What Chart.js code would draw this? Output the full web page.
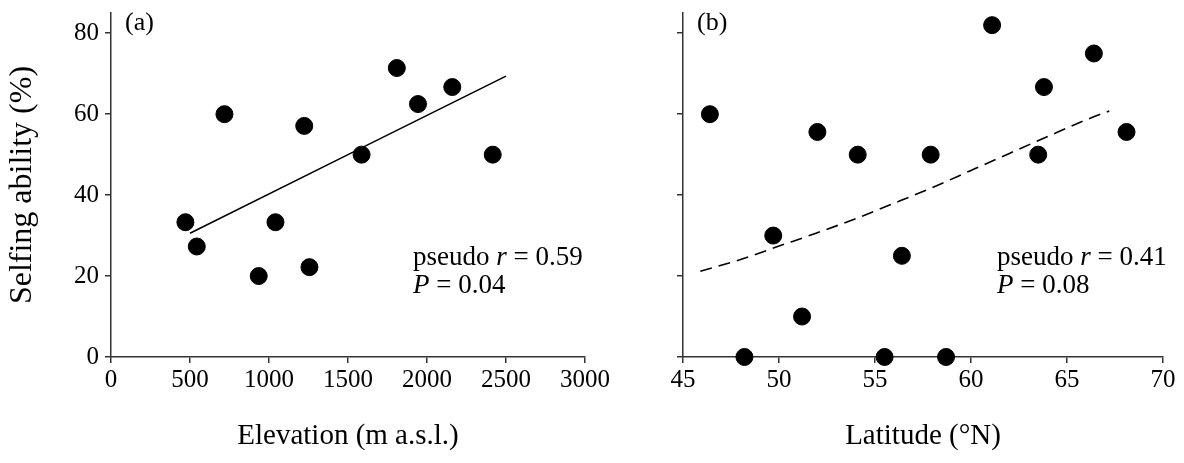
<!DOCTYPE html>
<html>
<head>
<meta charset="utf-8">
<script src="https://cdn.jsdelivr.net/npm/chart.js@4.4.1/dist/chart.umd.min.js"></script>
<style>
  html, body { margin: 0; padding: 0; background: #fff; }
  #wrap { position: relative; width: 1184px; height: 463px; overflow: hidden; background: #fff; }
  .cv { position: absolute; top: 0; height: 463px; }
  #boxA { left: 0; width: 620px; }
  #boxB { left: 600px; width: 584px; }
</style>
</head>
<body>
<div id="wrap">
  <div class="cv" id="boxA"><canvas id="chartA"></canvas></div>
  <div class="cv" id="boxB"><canvas id="chartB"></canvas></div>
</div>
<script>
// ---- Data ----
const elevation = [471, 543, 718, 935, 1041, 1223, 1256, 1586, 1809, 1943, 2160, 2416];
const selfingA  = [33.3, 27.3, 60, 20, 33.3, 57.1, 22.2, 50, 71.4, 62.5, 66.7, 50];

const latitude  = [46.4, 48.2, 49.7, 51.2, 52.0, 54.1, 55.5, 56.4, 57.9, 58.7, 61.1, 63.5, 63.8, 66.4, 68.1];
const selfingB  = [60, 0, 30, 10, 55.6, 50, 0, 25, 50, 0, 82, 50, 66.7, 75, 55.6];

const fitAx = [500, 2500];
const fitAy = [30.6, 69.4];

const fitBx = [45.9, 48, 50, 52, 54, 56, 58, 60, 62, 64, 66, 67.2];
const fitBy = [21.2, 24.1, 27.4, 30.7, 34.2, 38.0, 41.9, 46.1, 50.3, 54.5, 58.6, 60.8];

const yTicks = [0, 20, 40, 60, 80];
const xTicksA = [0, 500, 1000, 1500, 2000, 2500, 3000];
const xTicksB = [45, 50, 55, 60, 65, 70];

const annotA = { panel: '(a)', r: '0.59', p: '0.04' };
const annotB = { panel: '(b)', r: '0.41', p: '0.08' };

// ---- helpers ----
const FONT = "'Liberation Serif', 'Times New Roman', serif";
const AXIS = '#333';
const toXY = (xs, ys) => xs.map((x, i) => ({ x: x, y: ys[i] }));

const annotPlugin = {
  id: 'annot',
  afterDraw(chart, args, opts) {
    const ctx = chart.ctx;
    const ca = chart.chartArea;
    ctx.save();
    ctx.fillStyle = '#000';
    ctx.textBaseline = 'alphabetic';
    ctx.textAlign = 'left';
    // panel label
    ctx.font = "26px " + FONT;
    ctx.fillText(opts.text.panel, ca.left + 14, 30);
    // statistics
    const fs = 27;
    const lines = [
      { y: opts.y1, parts: [['pseudo ', false], ['r', true], [' = ' + opts.text.r, false]] },
      { y: opts.y2, parts: [['P', true], [' = ' + opts.text.p, false]] }
    ];
    lines.forEach(line => {
      let x = ca.left + opts.dx;
      line.parts.forEach(([t, it]) => {
        ctx.font = (it ? 'italic ' : '') + fs + 'px ' + FONT;
        ctx.fillText(t, x, line.y);
        x += ctx.measureText(t).width;
      });
    });
    ctx.restore();
  }
};

function makeChart(id, cfg) {
  return new Chart(document.getElementById(id), {
    type: 'scatter',
    data: {
      datasets: [
        {
          data: cfg.points,
          backgroundColor: '#000',
          borderColor: '#000',
          pointRadius: 8.5,
          pointHoverRadius: 8.5,
          clip: false,
          order: 1
        },
        {
          type: 'line',
          data: cfg.fit,
          borderColor: '#000',
          borderWidth: 1.6,
          borderDash: cfg.dash,
          pointRadius: 0,
          fill: false,
          cubicInterpolationMode: 'monotone',
          order: 2
        }
      ]
    },
    plugins: [annotPlugin],
    options: {
      responsive: true,
      maintainAspectRatio: false,
      animation: false,
      events: [],
      layout: { padding: { top: 13, right: cfg.padRight, left: 0, bottom: 0 } },
      plugins: {
        legend: { display: false },
        tooltip: { enabled: false },
        annot: { text: cfg.annot, dx: cfg.annotDx, y1: 265, y2: 293 }
      },
      scales: {
        x: {
          type: 'linear',
          min: cfg.xmin, max: cfg.xmax,
          afterBuildTicks: (s) => { s.ticks = cfg.xTicks.map(v => ({ value: v })); },
          afterFit: (s) => { s.height = 106; },
          border: { display: true, color: AXIS, width: 1.5 },
          grid: { drawOnChartArea: false, drawTicks: true, tickLength: 6, color: AXIS, lineWidth: 1.5 },
          ticks: { color: '#000', padding: 5, maxRotation: 0, autoSkip: false,
                   callback: (v) => String(v),
                   font: { family: FONT, size: 25, lineHeight: 1 } },
          title: { display: true, text: cfg.xTitle, color: '#000',
                   font: { family: FONT, size: 29, lineHeight: 1.2 },
                   padding: { top: 0, bottom: 9 } }
        },
        y: {
          type: 'linear',
          min: 0, max: 85,
          afterBuildTicks: (s) => { s.ticks = yTicks.map(v => ({ value: v })); },
          afterFit: (s) => { s.width = cfg.yWidth; s.paddingTop = 0; s.paddingBottom = 0; },
          border: { display: true, color: AXIS, width: 1.5 },
          grid: { drawOnChartArea: false, drawTicks: true, tickLength: 6, color: AXIS, lineWidth: 1.5 },
          ticks: { color: '#000', padding: 6,
                   callback: cfg.showY ? (v) => String(v) : () => '',
                   font: { family: FONT, size: 25, lineHeight: 1 } },
          title: { display: cfg.showY, text: 'Selfing ability (%)', color: '#000',
                   font: { family: FONT, size: 32, lineHeight: 1.2 },
                   padding: { top: 3, bottom: 0 } }
        }
      }
    }
  });
}

makeChart('chartA', {
  points: toXY(elevation, selfingA),
  fit: toXY(fitAx, fitAy),
  dash: [],
  xmin: 0, xmax: 3000, xTicks: xTicksA,
  xTitle: 'Elevation (m a.s.l.)',
  yWidth: 111, padRight: 35, showY: true,
  annot: annotA, annotDx: 302
});

makeChart('chartB', {
  points: toXY(latitude, selfingB),
  fit: toXY(fitBx, fitBy),
  dash: [12, 7],
  xmin: 45, xmax: 70, xTicks: xTicksB,
  xTitle: 'Latitude (°N)',
  yWidth: 83, padRight: 21, showY: false,
  annot: annotB, annotDx: 314
});
</script>
</body>
</html>
